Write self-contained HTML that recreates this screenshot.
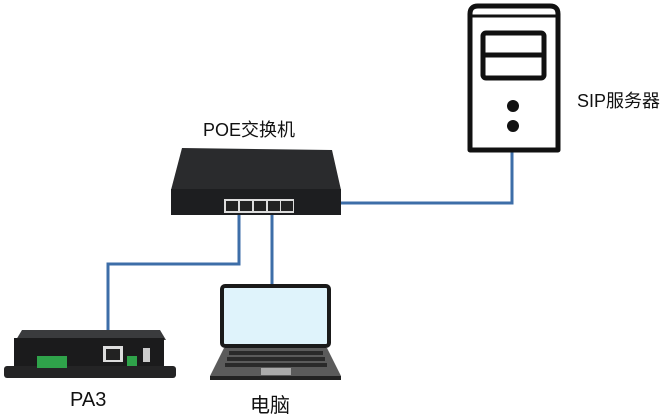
<!DOCTYPE html>
<html><head><meta charset="utf-8"><style>
html,body{margin:0;padding:0;background:#fff;}
body{width:672px;height:416px;overflow:hidden;position:relative;font-family:"Liberation Sans","Noto Sans CJK SC",sans-serif;}
.t{position:absolute;font-size:18px;color:#111;white-space:nowrap;}
</style></head><body>
<svg width="672" height="416" style="position:absolute;left:0;top:0">
<g fill="none" stroke="#3d6ea8" stroke-width="3">
<polyline points="340,203 512,203 512,150"/>
<polyline points="239,210 239,264 108,264 108,332"/>
<polyline points="272,210 272,286"/>
</g>
<path d="M470,150 L470,14 Q470,6 478,6 L550,6 Q558,6 558,14 L558,150 Z" fill="#fff" stroke="#111" stroke-width="5" stroke-linejoin="round"/>
<line x1="471" y1="16" x2="557" y2="16" stroke="#111" stroke-width="3"/>
<rect x="483" y="33" width="61" height="45" rx="3" fill="#fff" stroke="#111" stroke-width="5"/>
<line x1="483" y1="55" x2="544" y2="55" stroke="#111" stroke-width="5"/>
<circle cx="513" cy="106" r="6" fill="#111"/>
<circle cx="513" cy="126" r="6" fill="#111"/>
<path d="M182,148 L332,150 L341,190 L171,190 Z" fill="#2a2b2d"/>
<rect x="171" y="189" width="170" height="26" fill="#1d1e20"/>
<rect x="224" y="199" width="70" height="14" fill="#ddd"/>
<g fill="#222">
<rect x="226" y="201" width="12" height="10"/><rect x="240" y="201" width="12" height="10"/><rect x="254" y="201" width="12" height="10"/><rect x="268" y="201" width="12" height="10"/><rect x="281" y="201" width="12" height="10"/>
</g>
<rect x="222" y="286" width="107" height="60" rx="3" fill="#dff3fb" stroke="#1a1a1a" stroke-width="4"/>
<path d="M224,348 L327,348 L341,376 L210,376 Z" fill="#5b5b5b"/>
<rect x="210" y="376" width="131" height="4" fill="#222"/>
<g fill="#2a2a2a">
<rect x="229" y="351" width="94" height="4"/><rect x="227" y="357" width="98" height="4"/><rect x="225" y="363" width="102" height="4"/>
</g>
<rect x="261" y="368" width="30" height="7" fill="#aaa"/>
<path d="M22,330 L160,330 L166,340 L16,340 Z" fill="#3a3b3d"/>
<rect x="14" y="338" width="150" height="30" fill="#1b1b1c"/>
<rect x="4" y="366" width="172" height="12" rx="3" fill="#242425"/>
<rect x="37" y="356" width="30" height="12" fill="#2fa34a"/>
<rect x="103" y="346" width="20" height="16" fill="#ddd"/><rect x="106" y="349" width="14" height="11" fill="#222"/>
<rect x="127" y="356" width="10" height="10" fill="#2fa34a"/>
<rect x="143" y="348" width="7" height="14" fill="#ccc"/>
</svg>
<div class="t" style="left:203px;top:116px;">POE交换机</div>
<div class="t" style="left:577px;top:87px;">SIP服务器</div>
<div class="t" style="left:70px;top:389px;font-size:20px;">PA3</div>
<div class="t" style="left:250px;top:389px;font-size:20px;">电脑</div>
</body></html>
